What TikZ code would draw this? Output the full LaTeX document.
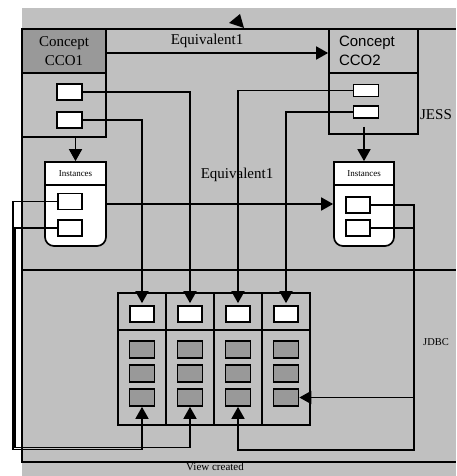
\documentclass[tikz,border=0pt]{standalone}
\usepackage{fontspec}
\setmainfont{Liberation Serif}
\newfontfamily\arialfont{Liberation Sans}
\usetikzlibrary{arrows.meta,calc}
\definecolor{panel}{HTML}{C0C0C0}
\definecolor{cellgray}{HTML}{999999}

\begin{document}
\begin{tikzpicture}[x=1pt,y=-1pt,line width=1.7pt,
    tip/.style={-{Triangle[length=12pt,width=13pt]}},
    slot/.style={draw,fill=white,minimum width=25pt,minimum height=16pt,inner sep=0pt},
    cell/.style={draw,fill=cellgray,minimum width=25pt,minimum height=17pt,inner sep=0pt},
    lbl/.style={font=\fontsize{15}{18.5}\selectfont},
    small/.style={font=\fontsize{10.5}{12}\selectfont}]
  \useasboundingbox (0,0) rectangle (456,476);
  \fill[panel] (22,8) rectangle (456,476);
  % frame of the two layers
  \draw (456,29) -- (22,29) -- (22,462) -- (456,462);
  \draw (22,270) -- (456,270);
  \fill (229,23) -- (240,14) -- (244,28) -- cycle;
  % concept CCO1
  \node[draw,fill=cellgray,minimum width=84pt,minimum height=44pt,inner sep=0pt,align=center,lbl] (cco1) at (64,51) {Concept\\CCO1};
  \node[draw,minimum width=84pt,minimum height=64pt] (cco1a) at (64,105) {};
  \node[slot] (a1) at (69.5,92) {};
  \node[slot] (a2) at (69.5,120) {};
  % concept CCO2
  \node[draw,minimum width=89pt,minimum height=44pt,text width=69pt,inner xsep=10pt,inner ysep=0pt,align=left,font=\arialfont\fontsize{15}{18.5}\selectfont] (cco2) at (373.5,51) {Concept\\CCO2};
  \node[draw,minimum width=89pt,minimum height=61pt] (cco2a) at (373.5,103.5) {};
  \node[slot,minimum height=12pt] (b1) at (366,90.5) {};
  \node[slot,minimum height=12pt] (b2) at (366,112) {};
  \node[lbl] (jess) at (436,115) {JESS};
  % equivalence of the concepts
  \draw[tip] ([yshift=-2pt]cco1.east) -- ([yshift=-2pt]cco2.west);
  \node[lbl] (eq1) at (207,41) {Equivalent1};
  % instances
  \node[draw,fill=white,rounded corners=9pt,minimum width=61pt,minimum height=84pt] (inst1) at (75.5,204) {};
  \node[draw,fill=white,minimum width=61pt,minimum height=23pt,inner sep=0pt,font=\fontsize{9}{11}\selectfont] (inst1h) at (75.5,173.5) {Instances};
  \node[slot,minimum width=24pt] (p1) at (70,201.5) {};
  \node[slot,minimum width=24pt] (p2) at (70,228) {};
  \node[draw,fill=white,rounded corners=9pt,minimum width=60pt,minimum height=84pt] (inst2) at (364,204) {};
  \node[draw,fill=white,minimum width=60pt,minimum height=23pt,inner sep=0pt,font=\fontsize{9}{11}\selectfont] (inst2h) at (364,173.5) {Instances};
  \node[slot,minimum width=24pt] (q1) at (358,205) {};
  \node[slot,minimum width=24pt] (q2) at (358,228) {};
  \draw[tip] (cco1a.south -| inst1.north) -- (inst1.north);
  \draw[tip] ($(b2.south -| inst2.north)+(0,8)$) -- (inst2.north);
  \draw[tip] (inst1.east) -- (inst2.west);
  \node[lbl] (eq2) at (237,175) {Equivalent1};
  % the view
  \draw (118,293) rectangle (310,425);
  \draw (118,330) -- (310,330);
  \foreach \x in {166,214,262}
    \draw (\x,293) -- (\x,425);
  \foreach \i/\x in {1/142,2/190,3/238,4/286}{
    \node[slot,minimum width=24pt] (h\i) at (\x,314) {};
    \foreach \j/\y in {1/349.5,2/373.5,3/397.5}
      \node[cell] (c\i\j) at (\x,\y) {};
  }
  \node[small] (jdbc) at (436,342) {JDBC};
  \node[font=\fontsize{11}{13}\selectfont] (view) at (215,467) {View created};
  % attributes into the view
  \draw[tip] (a1.east) -| ([yshift=2pt]h2.north);
  \draw[tip] (a2.east) -| ([yshift=2pt]h1.north);
  \draw[tip] (b1.west) -| ([yshift=2pt]h3.north);
  \draw[tip] (b2.west) -| ([yshift=2pt]h4.north);
  % instances into the view
  \coordinate (rr) at (414,450);
  \draw[tip] (q1.east) -| (rr) -| (c33.south);
  \draw (q2.east) -- (q2.east -| rr);
  \draw[tip] (c43.east -| rr) -- (c43.east);
  \coordinate (ll) at (13,449.5);
  \coordinate (lk) at (15,447.5);
  \draw[tip] (p1.west) -| (ll) -| (c13.south);
  \draw[tip] (p2.west) -| (lk) -| (c23.south);
\end{tikzpicture}
\end{document}
